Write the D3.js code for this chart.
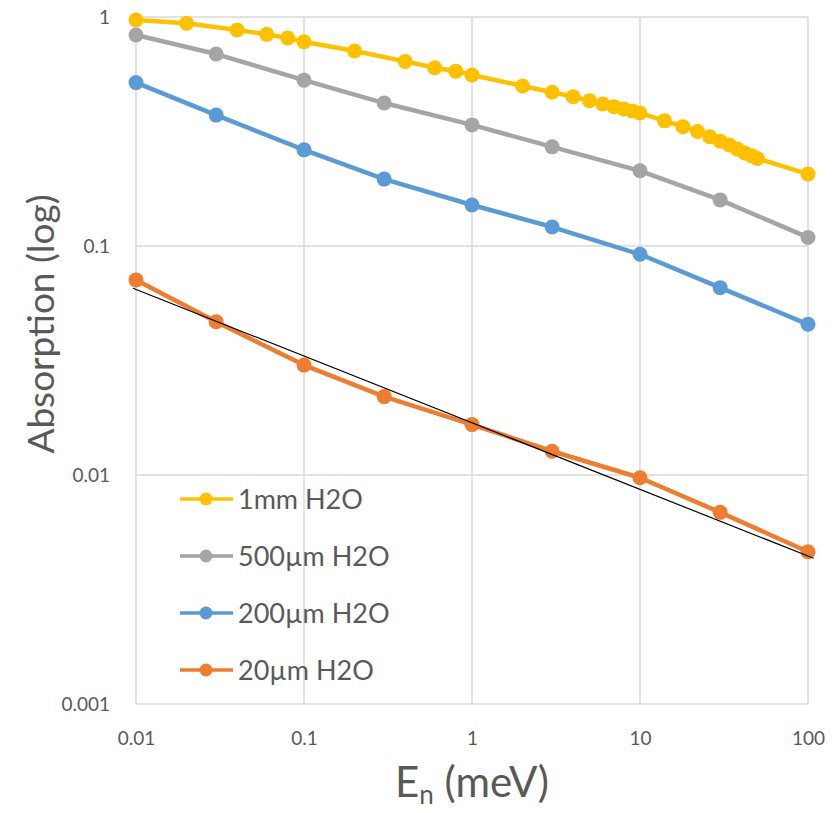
<!DOCTYPE html>
<html>
<head>
<meta charset="utf-8">
<script src="https://cdn.jsdelivr.net/npm/d3@7"></script>
<style>
  html, body { margin: 0; padding: 0; background: #fff; }
  svg { display: block; }
  text { font-family: Lato, "Open Sans", "Noto Sans", sans-serif; fill: #595959; }
</style>
</head>
<body>
<svg id="chart" width="840" height="813"></svg>
<script>
// Neutron energy (meV) and absorption for each water thickness
const xYellow = [0.01, 0.02, 0.04, 0.06, 0.08, 0.1, 0.2, 0.4, 0.6, 0.8, 1,
                 2, 3, 4, 5, 6, 7, 8, 9, 10,
                 14, 18, 22, 26, 30, 34, 38, 42, 46, 50, 100];
const yYellow = [0.97, 0.939, 0.877, 0.84, 0.81, 0.78, 0.71, 0.64, 0.60, 0.58, 0.558,
                 0.50, 0.469, 0.449, 0.431, 0.417, 0.406, 0.397, 0.389, 0.381,
                 0.352, 0.332, 0.316, 0.300, 0.287, 0.276, 0.265, 0.255, 0.248, 0.241, 0.206];

const xCoarse = [0.01, 0.03, 0.1, 0.3, 1, 3, 10, 30, 100];
const yGray   = [0.834, 0.689, 0.53, 0.421, 0.338, 0.271, 0.213, 0.159, 0.109];
const yBlue   = [0.517, 0.373, 0.263, 0.196, 0.151, 0.121, 0.092, 0.0658, 0.0455];
const yOrange = [0.0711, 0.0467, 0.0302, 0.0220, 0.0166, 0.0127, 0.00973, 0.00687, 0.00462];

// Power-law trendline of the 20µm series (straight on log-log axes)
const trendX = [0.0096, 108];
const trendY = [0.0654, 0.00433];

const seriesNames  = ["1mm H2O", "500µm H2O", "200µm H2O", "20µm H2O"];
const seriesColors = ["#FFC000", "#A5A5A5", "#5B9BD5", "#ED7D31"];

const xTicks = [0.01, 0.1, 1, 10, 100];
const xTickLabels = ["0.01", "0.1", "1", "10", "100"];
const yTicks = [0.001, 0.01, 0.1, 1];
const yTickLabels = ["0.001", "0.01", "0.1", "1"];

const series = [
  { name: seriesNames[0], color: seriesColors[0], xs: xYellow, ys: yYellow },
  { name: seriesNames[1], color: seriesColors[1], xs: xCoarse, ys: yGray },
  { name: seriesNames[2], color: seriesColors[2], xs: xCoarse, ys: yBlue },
  { name: seriesNames[3], color: seriesColors[3], xs: xCoarse, ys: yOrange }
];

const svg = d3.select("#chart");
const plot = { left: 136, right: 808, top: 17, bottom: 704 };

const x = d3.scaleLog().domain([0.01, 100]).range([plot.left, plot.right]);
const y = d3.scaleLog().domain([0.001, 1]).range([plot.bottom, plot.top]);

// Gridlines
const grid = svg.append("g").attr("stroke", "#d9d9d9").attr("stroke-width", 1.5);
grid.selectAll("line.v").data(xTicks).join("line")
  .attr("x1", d => x(d)).attr("x2", d => x(d))
  .attr("y1", plot.top).attr("y2", plot.bottom);
grid.selectAll("line.h").data(yTicks).join("line")
  .attr("x1", plot.left).attr("x2", plot.right)
  .attr("y1", d => y(d)).attr("y2", d => y(d));

// Axes (labels only; gridlines carry the frame)
const xAxis = d3.axisBottom(x).tickValues(xTicks)
  .tickFormat((d, i) => xTickLabels[i]).tickSize(0).tickPadding(28);
svg.append("g").attr("transform", `translate(0,${plot.bottom})`).call(xAxis)
  .call(g => g.select(".domain").remove())
  .selectAll("text").style("font-size", "19px").attr("fill", "#595959");

const yAxis = d3.axisLeft(y).tickValues(yTicks)
  .tickFormat((d, i) => yTickLabels[i]).tickSize(0).tickPadding(26);
svg.append("g").attr("transform", `translate(${plot.left},0)`).call(yAxis)
  .call(g => g.select(".domain").remove())
  .selectAll("text").style("font-size", "19px").attr("fill", "#595959");

// Series lines and markers
const line = d3.line().x(d => x(d[0])).y(d => y(d[1]));
series.forEach(s => {
  const pts = s.xs.map((v, i) => [v, s.ys[i]]);
  const g = svg.append("g");
  g.append("path").datum(pts).attr("d", line)
    .attr("fill", "none").attr("stroke", s.color).attr("stroke-width", 4.5)
    .attr("stroke-linejoin", "round").attr("stroke-linecap", "round");
  g.selectAll("circle").data(pts).join("circle")
    .attr("cx", d => x(d[0])).attr("cy", d => y(d[1])).attr("r", 7.5)
    .attr("fill", s.color);
});

// Trendline
svg.append("path").datum(trendX.map((v, i) => [v, trendY[i]])).attr("d", line)
  .attr("fill", "none").attr("stroke", "#000").attr("stroke-width", 1.2);

// Legend
const legend = svg.append("g");
const legendY0 = 499, legendStep = 57;
series.forEach((s, i) => {
  const ly = legendY0 + i * legendStep;
  legend.append("line").attr("x1", 180).attr("x2", 233).attr("y1", ly).attr("y2", ly)
    .attr("stroke", s.color).attr("stroke-width", 3.5);
  legend.append("circle").attr("cx", 206).attr("cy", ly).attr("r", 6.5).attr("fill", s.color);
  legend.append("text").attr("x", 238).attr("y", ly).attr("dy", "0.36em")
    .style("font-size", "27px").text(s.name);
});

// Axis titles
svg.append("text")
  .attr("transform", `translate(54,324) rotate(-90)`)
  .attr("text-anchor", "middle").style("font-size", "37px")
  .text("Absorption (log)");

const xt = svg.append("text").attr("x", x(1)).attr("y", 797)
  .attr("text-anchor", "middle").style("font-size", "42px");
xt.append("tspan").text("E");
xt.append("tspan").attr("dy", 7).style("font-size", "26px").text("n");
xt.append("tspan").attr("dy", -7).text(" (meV)");
</script>
</body>
</html>
